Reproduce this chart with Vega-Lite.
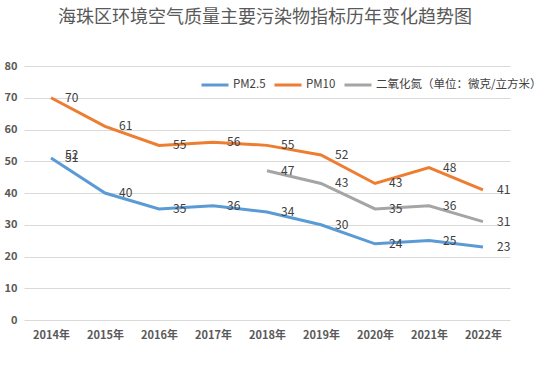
{
  "$schema": "https://vega.github.io/schema/vega-lite/v6.json",
  "width": 486,
  "height": 254,
  "autosize": {"type": "none"},
  "padding": {"left": 24, "top": 66, "right": 45, "bottom": 55},
  "background": "white",
  "title": {
    "text": "海珠区环境空气质量主要污染物指标历年变化趋势图",
    "fontSize": 18,
    "font": "Noto Sans CJK SC",
    "fontWeight": "normal",
    "color": "#595959",
    "anchor": "middle",
    "offset": 33,
    "dx": -2
  },
  "config": {
    "view": {"stroke": null},
    "font": "Noto Sans CJK SC"
  },
  "data": {
    "values": [
      {"year": "2014年", "series": "PM2.5", "value": 51},
      {"year": "2015年", "series": "PM2.5", "value": 40},
      {"year": "2016年", "series": "PM2.5", "value": 35},
      {"year": "2017年", "series": "PM2.5", "value": 36},
      {"year": "2018年", "series": "PM2.5", "value": 34},
      {"year": "2019年", "series": "PM2.5", "value": 30},
      {"year": "2020年", "series": "PM2.5", "value": 24},
      {"year": "2021年", "series": "PM2.5", "value": 25},
      {"year": "2022年", "series": "PM2.5", "value": 23},
      {"year": "2014年", "series": "PM10", "value": 70},
      {"year": "2015年", "series": "PM10", "value": 61},
      {"year": "2016年", "series": "PM10", "value": 55},
      {"year": "2017年", "series": "PM10", "value": 56},
      {"year": "2018年", "series": "PM10", "value": 55},
      {"year": "2019年", "series": "PM10", "value": 52},
      {"year": "2020年", "series": "PM10", "value": 43},
      {"year": "2021年", "series": "PM10", "value": 48},
      {"year": "2022年", "series": "PM10", "value": 41},
      {"year": "2014年", "series": "二氧化氮（单位：微克/立方米）", "value": 52},
      {"year": "2015年", "series": "二氧化氮（单位：微克/立方米）", "value": null},
      {"year": "2016年", "series": "二氧化氮（单位：微克/立方米）", "value": null},
      {"year": "2017年", "series": "二氧化氮（单位：微克/立方米）", "value": null},
      {"year": "2018年", "series": "二氧化氮（单位：微克/立方米）", "value": 47},
      {"year": "2019年", "series": "二氧化氮（单位：微克/立方米）", "value": 43},
      {"year": "2020年", "series": "二氧化氮（单位：微克/立方米）", "value": 35},
      {"year": "2021年", "series": "二氧化氮（单位：微克/立方米）", "value": 36},
      {"year": "2022年", "series": "二氧化氮（单位：微克/立方米）", "value": 31}
    ]
  },
  "encoding": {
    "x": {
      "field": "year",
      "type": "ordinal",
      "scale": {"type": "point", "padding": 0.5},
      "axis": {
        "title": null,
        "labelAngle": 0,
        "domain": false,
        "ticks": false,
        "labelFontSize": 11,
        "labelFontWeight": "bold",
        "labelColor": "#595959",
        "labelPadding": 9,
        "labelFont": "Noto Sans CJK SC"
      }
    },
    "y": {
      "field": "value",
      "type": "quantitative",
      "scale": {"domain": [0, 80], "nice": false},
      "axis": {
        "title": null,
        "values": [0, 10, 20, 30, 40, 50, 60, 70, 80],
        "domain": false,
        "ticks": false,
        "gridColor": "#D9D9D9",
        "labelFontSize": 11,
        "labelFontWeight": "bold",
        "labelColor": "#595959",
        "labelPadding": 7
      }
    },
    "color": {
      "field": "series",
      "type": "nominal",
      "sort": ["PM2.5", "PM10", "二氧化氮（单位：微克/立方米）"],
      "scale": {
        "domain": ["PM2.5", "PM10", "二氧化氮（单位：微克/立方米）"],
        "range": ["#5B9BD5", "#ED7D31", "#A5A5A5"]
      },
      "legend": {
        "title": null,
        "orient": "none",
        "direction": "horizontal",
        "legendX": 176,
        "legendY": 4,
        "symbolType": "stroke",
        "symbolStrokeWidth": 3,
        "symbolSize": 729,
        "labelFontSize": 11.5,
        "labelColor": "#404040",
        "labelFont": "Noto Sans CJK SC",
        "labelLimit": 400,
        "columnPadding": 2,
        "labelOffset": 3
      }
    }
  },
  "layer": [
    {
      "mark": {"type": "line", "strokeWidth": 3, "invalid": "break-paths-show-domains"}
    },
    {
      "mark": {"type": "text", "align": "left", "baseline": "middle", "dx": 14, "fontSize": 12, "color": "#404040"},
      "transform": [{"filter": "datum.value != null"}],
      "encoding": {
        "text": {"field": "value", "type": "quantitative"},
        "color": {"value": "#404040"}
      }
    }
  ]
}
